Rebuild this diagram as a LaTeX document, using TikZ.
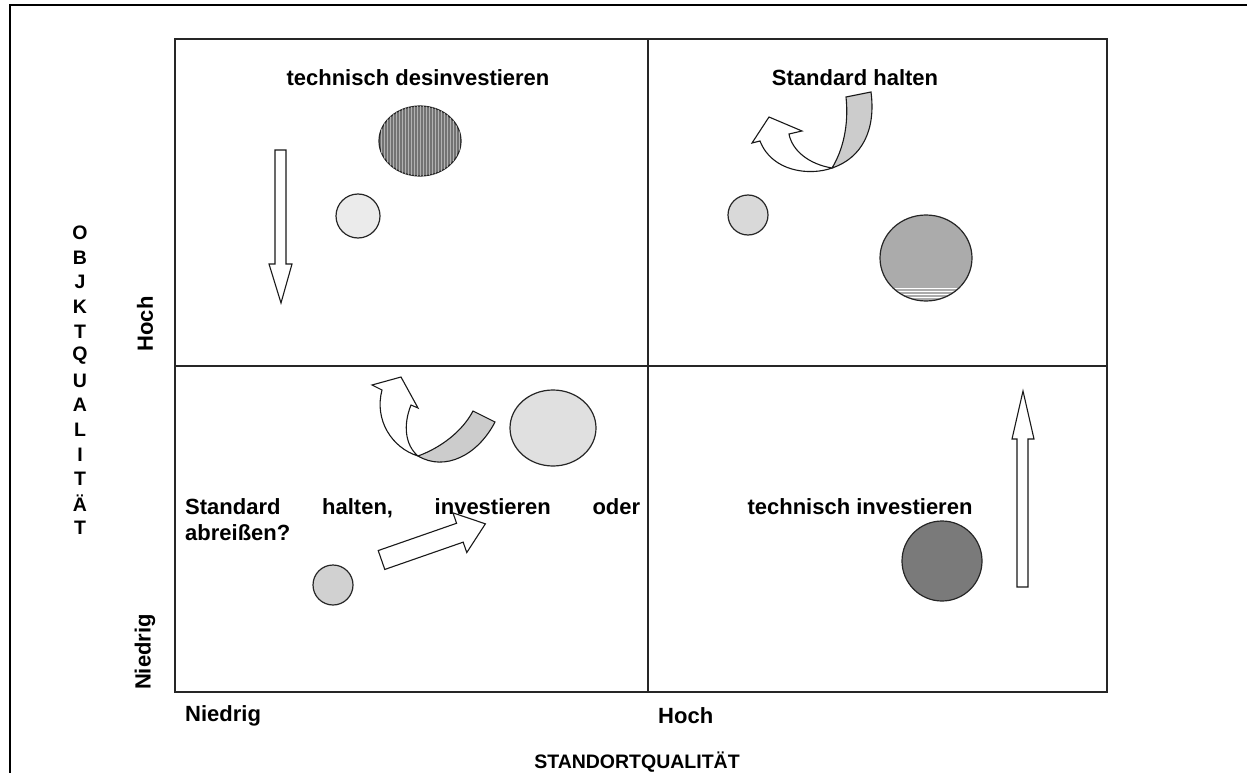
\documentclass[tikz,border=0pt]{standalone}
\usepackage{fontspec}
\setmainfont{Liberation Sans}
\usetikzlibrary{patterns}

\begin{document}
\begin{tikzpicture}[x=1pt,y=-1pt,
    bigtext/.style={inner sep=0pt, font=\bfseries\fontsize{22}{26}\selectfont},
    axistext/.style={inner sep=0pt, font=\bfseries\fontsize{22}{26}\selectfont},
    lettertext/.style={inner sep=0pt, font=\bfseries\fontsize{19.5}{23}\selectfont},
    gridline/.style={line width=1.2pt, black!85},
    bubble/.style={draw=black!85, line width=1.2pt},
    blockarrow/.style={draw=black!90, fill=white, line width=1.1pt, line join=miter},
    ribbon/.style={draw=black!90, fill=black!20, line width=1.1pt}]
  \useasboundingbox (0,0) rectangle (1247,773);

  % frame
  \draw[line width=2.5pt] (10,773) -- (10,5) -- (1247,5);

  % matrix
  \draw[gridline] (175,39) rectangle (1107,692);
  \draw[gridline] (648,39) -- (648,692);
  \draw[gridline] (175,366) -- (1107,366);

  % axes
  \foreach \ch [count=\k from 0] in {O,B,J,K,T,Q,U,A,L,I,T,Ä,T}
    \node[lettertext] (yl\k) at (80,233+24.6*\k) {\ch};
  \node[axistext, rotate=90] (yhoch) at (145,324) {Hoch};
  \node[axistext, rotate=90] (yniedrig) at (145,652) {Niedrig};
  \node[axistext, anchor=west] (xniedrig) at (185,716) {Niedrig};
  \node[axistext, anchor=west] (xhoch) at (658,716) {Hoch};
  \node[lettertext] (xtitle) at (637,762) {STANDORTQUALITÄT};

  % quadrant texts
  \node[bigtext] (tdes) at (418,78) {technisch desinvestieren};
  \node[bigtext] (shalt) at (855,78) {Standard halten};
  \node[bigtext] (tinv) at (860,507) {technisch investieren};
  \node[bigtext, anchor=north west, align=left] (frage) at (185,498)
    {\hbox to 455pt{Standard\hfill halten,\hfill investieren\hfill oder}\\abreißen?};

  % top left
  \draw[bubble, fill=black!55, postaction={pattern=vertical lines, pattern color=black!30}]
    (420,141) ellipse [x radius=41, y radius=35];
  \draw[bubble, fill=black!8] (358,216) circle [radius=22];
  \draw[blockarrow] (275,150) -- (286,150) -- (286,264) -- (292,264) -- (281,303)
    -- (269,264) -- (275,264) -- cycle;

  % top right
  \draw[bubble, fill=black!15] (748,215) circle [radius=20];
  \draw[bubble, fill=black!33] (926,258) ellipse [x radius=46, y radius=43];
  \begin{scope}
    \clip (926,258) ellipse [x radius=45, y radius=42];
    \foreach \yy in {288,291,294,297}
      \draw[white, line width=0.7pt] (880,\yy) -- (972,\yy);
  \end{scope}
  \draw[ribbon] (846,97) -- (871,92) .. controls (876,130) and (862,158) .. (832,168)
    .. controls (843,150) and (849,125) .. (846,97) -- cycle;
  \draw[blockarrow] (760,141) -- (752,143) -- (769,117) -- (802,131) -- (789,134)
    .. controls (792,150) and (808,164) .. (832,168)
    .. controls (810,176) and (772,172) .. (760,141) -- cycle;

  % bottom left
  \draw[bubble, fill=black!12] (553,428) ellipse [x radius=43, y radius=38];
  \draw[bubble, fill=black!18] (333,585) circle [radius=20];
  \draw[ribbon] (473,411) -- (495,422) .. controls (478,455) and (445,472) .. (418,456)
    .. controls (440,448) and (462,432) .. (473,411) -- cycle;
  \draw[blockarrow] (382,390) -- (372,385) -- (401,377) -- (418,408) -- (411,405)
    .. controls (403,425) and (405,445) .. (418,456)
    .. controls (392,448) and (374,420) .. (382,390) -- cycle;
  \begin{scope}[shift={(381.5,560)}, rotate=19.2]
    \draw[blockarrow] (0,-10) -- (83,-10) -- (83,-21) -- (110,0) -- (83,21)
      -- (83,10) -- (0,10) -- cycle;
  \end{scope}

  % bottom right
  \draw[bubble, fill=black!52] (942,561) circle [radius=40];
  \draw[blockarrow] (1017,587) -- (1028,587) -- (1028,439) -- (1034,439) -- (1023,391)
    -- (1012,439) -- (1017,439) -- cycle;
\end{tikzpicture}
\end{document}
